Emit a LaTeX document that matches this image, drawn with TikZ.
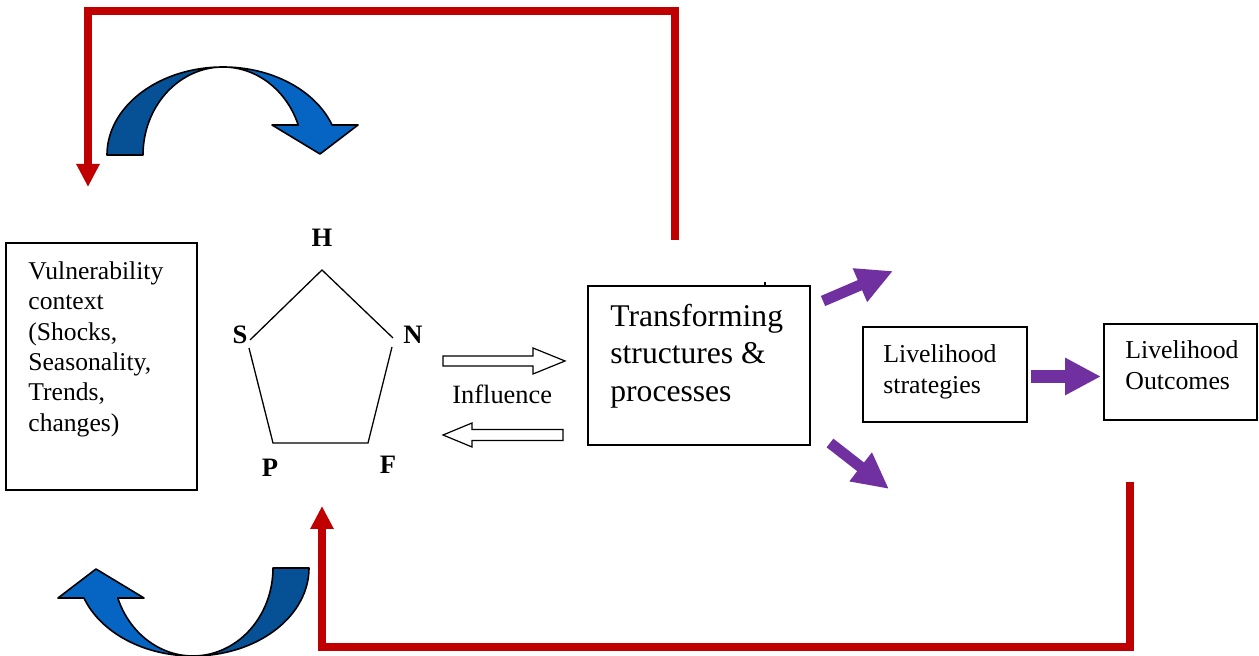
\documentclass[tikz,border=0pt]{standalone}
\usepackage{fontspec}
\setmainfont{Liberation Serif}
\usetikzlibrary{arrows.meta}
\definecolor{redline}{RGB}{192,0,0}
\definecolor{purp}{RGB}{112,48,160}
\definecolor{bluedark}{RGB}{6,80,150}
\definecolor{bluelight}{RGB}{6,100,194}
\tikzset{
  box/.style={draw=black, line width=0.85pt, inner sep=0pt},
  boxtext/.style={anchor=north west, inner sep=0pt, align=left},
  letter/.style={font=\fontsize{13.3}{15}\selectfont\bfseries, inner sep=0pt},
  redpath/.style={draw=redline, line width=3.6pt, line join=miter, -{Triangle[length=11.5pt,width=11pt]}},
  purparrow/.style={draw=purp, line width=5.5pt, -{Triangle[length=18pt,width=17pt]}},
  hollow/.style={draw=black, line width=0.6pt, fill=white},
  pent/.style={draw=black, line width=0.65pt},
  bandedge/.style={draw=black, line width=0.8pt, line join=round},
}
\newcommand{\curvarrow}[3]{%
  \begin{scope}[shift={(#1,#2)}, rotate=#3]
    \filldraw[bandedge, fill=bluedark]
      plot[domain=180:270, samples=40] ({116*cos(\x)},{88*sin(\x)})
      -- plot[domain=270:180, samples=40] ({80*cos(\x)},{88*sin(\x)}) -- cycle;
    \filldraw[bandedge, fill=bluelight]
      plot[domain=270:340.1, samples=40] ({116*cos(\x)},{88*sin(\x)})
      -- (135,-30) -- (97,-1) -- (49,-30)
      -- plot[domain=340.1:270, samples=40] ({80*cos(\x)},{88*sin(\x)}) -- cycle;
  \end{scope}}
\begin{document}
\begin{tikzpicture}[x=0.5pt, y=-0.5pt]
\useasboundingbox (0,0) rectangle (1259,656);

% boxes
\node[box, minimum width=95.5pt, minimum height=123.5pt] (vuln) at (101.5,366.5) {};
\node[box, minimum width=111pt, minimum height=79.5pt] (trans) at (699,365.5) {};
\node[box, minimum width=82pt, minimum height=47.5pt] (strat) at (945,374.5) {};
\node[box, minimum width=76.5pt, minimum height=48pt] (outc) at (1180.5,372) {};

% box texts
\node[boxtext, font=\fontsize{12.8}{15.15}\selectfont] (vulntext) at (28,261.5)
  {Vulnerability\\context\\(Shocks,\\Seasonality,\\Trends,\\changes)};
\node[boxtext, font=\fontsize{15.8}{18.75}\selectfont] (transtext) at (610,303.4)
  {Transforming\\structures \&\\processes};
\node[boxtext, font=\fontsize{12.9}{15.5}\selectfont] (strattext) at (883,344)
  {Livelihood\\strategies};
\node[boxtext, font=\fontsize{12.9}{15.5}\selectfont] (outctext) at (1125,340.7)
  {Livelihood\\Outcomes};
\node[anchor=base west, inner sep=0pt, font=\fontsize{13.2}{15}\selectfont] (infl) at (452,403.3) {Influence};

% small tick above transforming box
\coordinate (tickA) at (765,282);
\coordinate (tickB) at (765,286);
\draw[line width=0.6pt] (tickA) -- (tickB);

% pentagon
\coordinate (pH) at (322,270);
\coordinate (pS1) at (250,340);
\coordinate (pN1) at (393,338);
\coordinate (pN2) at (392,347);
\coordinate (pF) at (368,443);
\coordinate (pP) at (273,443);
\coordinate (pS2) at (249,348);
\draw[pent] (pS1) -- (pH) -- (pN1);
\draw[pent] (pN2) -- (pF) -- (pP) -- (pS2);
\node[letter] (lH) at (322,238) {H};
\node[letter] (lS) at (240,335) {S};
\node[letter] (lN) at (413,335) {N};
\node[letter] (lP) at (270,468) {P};
\node[letter] (lF) at (388,465) {F};

% hollow influence arrows
\draw[hollow] (443,356) -- (533,356) -- (533,348) -- (565,361) -- (533,374) -- (533,366) -- (443,366) -- cycle;
\draw[hollow] (563,429.5) -- (472,429.5) -- (472,423) -- (443,435) -- (472,447) -- (472,440.5) -- (563,440.5) -- cycle;

% purple arrows
\coordinate (pu1a) at (823,301);
\coordinate (pu1b) at (893,271);
\coordinate (pu2a) at (830,443);
\coordinate (pu2b) at (889,489);
\coordinate (pu3a) at (1031,376.5);
\coordinate (pu3b) at (1101,376.5);
\draw[purparrow] (pu1a) -- (pu1b);
\draw[purparrow] (pu2a) -- (pu2b);
\draw[purparrow, line width=6.5pt, -{Triangle[length=18pt,width=17.5pt]}] (pu3a) -- (pu3b);

% red feedback lines
\coordinate (rt0) at (675,240);
\coordinate (rtc) at (88,11);
\coordinate (rt1) at (88,187);
\draw[redpath] (rt0) |- (rtc) -- (rt1);
\coordinate (rb0) at (1130,482);
\coordinate (rbc) at (322,647);
\coordinate (rb1) at (322,506);
\draw[redpath] (rb0) |- (rbc) -- (rb1);

% blue curved arrows
\curvarrow{223}{155}{0}
\curvarrow{193}{568}{180}
\end{tikzpicture}
\end{document}
